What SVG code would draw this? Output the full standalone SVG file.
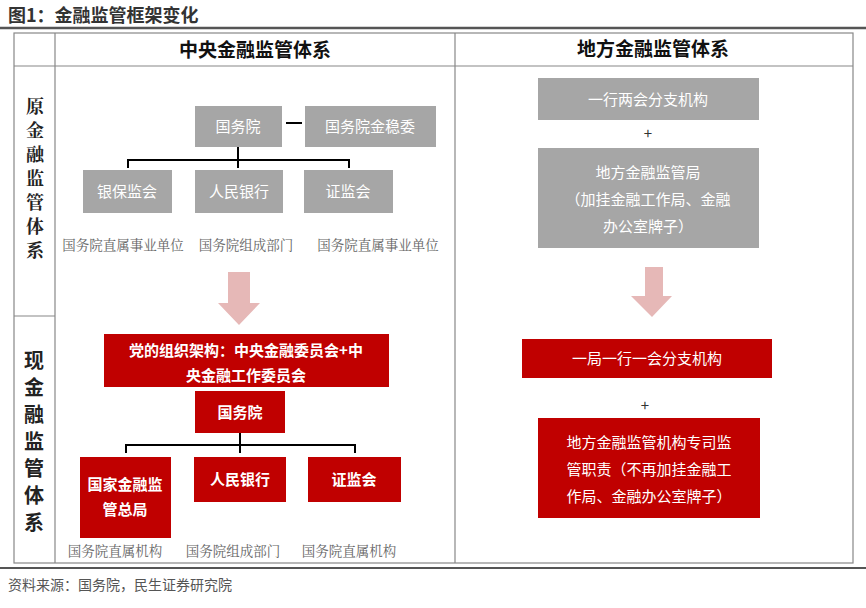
<svg xmlns="http://www.w3.org/2000/svg" width="866" height="608" viewBox="0 0 866 608">
<style>
text{font-family:"Noto Sans CJK SC","Noto Sans",sans-serif;text-anchor:middle}
.g{fill:#a6a6a6}
.r{fill:#c00000}
.wt{fill:#fff;font-size:15px}
.wb{fill:#fff;font-size:15px;font-weight:bold}
.lab{font-family:"Noto Serif CJK SC","Noto Sans CJK SC",serif;fill:#666;font-size:13.5px}
.ln{stroke:#000;stroke-width:2;fill:none}
.arr{fill:#e6b8b7}
.vs{font-family:"Noto Serif CJK SC","Noto Sans CJK SC",serif;font-size:18px;font-weight:bold;fill:#222}
.vb{font-size:20px;font-weight:bold;fill:#222}
</style>
<rect width="866" height="608" fill="#fff"/>
<text x="8" y="22" style="text-anchor:start;font-size:18px;font-weight:bold;fill:#333">图1：金融监管框架变化</text>
<line x1="0" y1="28" x2="866" y2="28" stroke="#555" stroke-width="2.5"/>
<g fill="none" stroke="#888" stroke-width="1.2">
<rect x="14" y="33" width="839" height="530"/>
<line x1="55" y1="33" x2="55" y2="563"/>
<line x1="455" y1="33" x2="455" y2="563"/>
<line x1="14" y1="66" x2="853" y2="66"/>
<line x1="14" y1="316" x2="55" y2="316"/>
</g>
<line x1="0" y1="568" x2="866" y2="568" stroke="#555" stroke-width="2"/>
<text x="8" y="590" style="text-anchor:start;font-size:14px;fill:#555">资料来源：国务院，民生证券研究院</text>
<text x="255" y="57" style="font-size:19px;font-weight:bold;fill:#111">中央金融监管体系</text>
<text x="653" y="56" style="font-size:19px;font-weight:bold;fill:#111">地方金融监管体系</text>
<g id="rowlabels">
<text class="vs" x="35" y="113">原</text>
<text class="vs" x="35" y="137">金</text>
<text class="vs" x="35" y="161">融</text>
<text class="vs" x="35" y="185">监</text>
<text class="vs" x="35" y="209">管</text>
<text class="vs" x="35" y="233">体</text>
<text class="vs" x="35" y="257">系</text>
<text class="vb" x="34" y="368">现</text>
<text class="vb" x="34" y="395">金</text>
<text class="vb" x="34" y="422">融</text>
<text class="vb" x="34" y="449">监</text>
<text class="vb" x="34" y="476">管</text>
<text class="vb" x="34" y="503">体</text>
<text class="vb" x="34" y="530">系</text>
</g>
<g id="connectors">
<line class="ln" x1="286" y1="123" x2="302" y2="123"/>
<path class="ln" d="M238 147V168M128 168V160H349V168"/>
<path class="ln" d="M240 433V453M126 453V445H355V453"/>
<path class="arr" d="M228 272H250V303H260L239 325L218 303H228Z"/>
<path class="arr" d="M645 267H663V296H672L652 317L631 296H645Z"/>
</g>
<g id="n1"><rect class="g" x="195" y="106" width="87" height="41"/><text class="wt" x="238" y="132">国务院</text></g>
<g id="n2"><rect class="g" x="305" y="106" width="131" height="41"/><text class="wt" x="370" y="132">国务院金稳委</text></g>
<g id="n3"><rect class="g" x="83" y="170" width="89" height="43"/><text class="wt" x="127" y="197">银保监会</text></g>
<g id="n4"><rect class="g" x="195" y="170" width="88" height="43"/><text class="wt" x="239" y="197">人民银行</text></g>
<g id="n5"><rect class="g" x="304" y="170" width="89" height="43"/><text class="wt" x="348" y="197">证监会</text></g>
<text class="lab" x="123" y="250">国务院直属事业单位</text>
<text class="lab" x="246" y="250">国务院组成部门</text>
<text class="lab" x="378" y="250">国务院直属事业单位</text>
<g id="n6"><rect class="r" x="104" y="334" width="285" height="53"/><text class="wb" x="246" y="356">党的组织架构：中央金融委员会+中</text><text class="wb" x="246" y="381">央金融工作委员会</text></g>
<g id="n7"><rect class="r" x="195" y="391" width="90" height="42"/><text class="wb" x="240" y="418">国务院</text></g>
<g id="n8"><rect class="r" x="80" y="457" width="91" height="81"/><text class="wb" x="125" y="490">国家金融监</text><text class="wb" x="125" y="515">管总局</text></g>
<g id="n9"><rect class="r" x="194" y="457" width="92" height="45"/><text class="wb" x="240" y="485">人民银行</text></g>
<g id="n10"><rect class="r" x="308" y="457" width="93" height="45"/><text class="wb" x="354" y="485">证监会</text></g>
<text class="lab" x="115" y="556">国务院直属机构</text>
<text class="lab" x="233" y="556">国务院组成部门</text>
<text class="lab" x="349" y="556">国务院直属机构</text>
<g id="m1"><rect class="g" x="538" y="78" width="221" height="42"/><text class="wt" x="648" y="105">一行两会分支机构</text></g>
<text x="648" y="139" style="font-size:15px;fill:#333">+</text>
<g id="m2"><rect class="g" x="538" y="148" width="221" height="100"/><text class="wt" x="648" y="178">地方金融监管局</text><text class="wt" x="648" y="205">（加挂金融工作局、金融</text><text class="wt" x="648" y="232">办公室牌子）</text></g>
<g id="m3"><rect class="r" x="522" y="339" width="250" height="39"/><text class="wt" x="647" y="364">一局一行一会分支机构</text></g>
<text x="645" y="411" style="font-size:15px;fill:#333">+</text>
<g id="m4"><rect class="r" x="538" y="418" width="222" height="100"/><text class="wt" x="649" y="448">地方金融监管机构专司监</text><text class="wt" x="649" y="475">管职责（不再加挂金融工</text><text class="wt" x="649" y="502">作局、金融办公室牌子）</text></g>
</svg>
